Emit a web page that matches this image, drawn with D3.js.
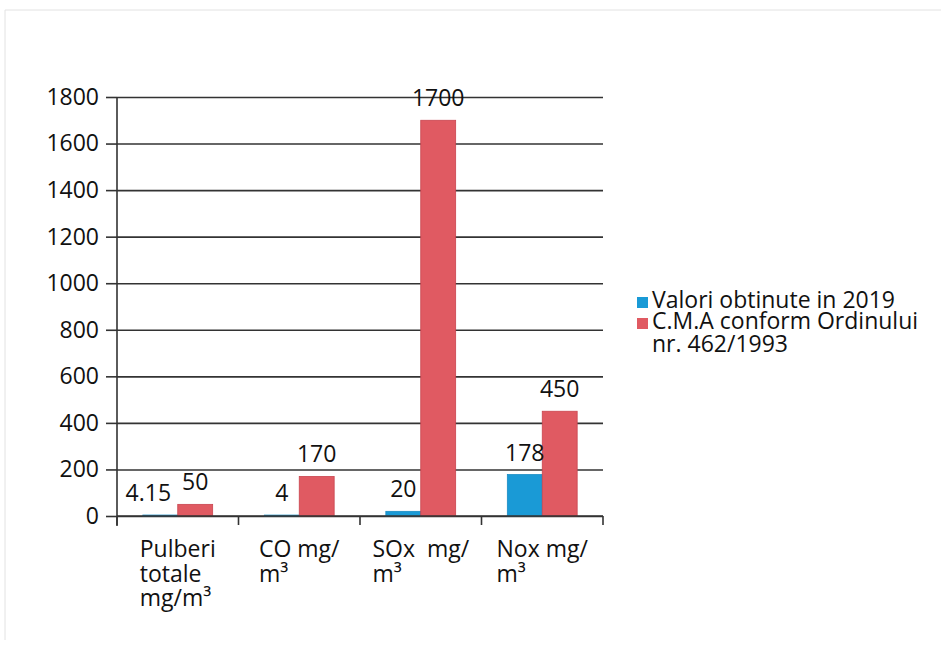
<!DOCTYPE html>
<html>
<head>
<meta charset="utf-8">
<script src="https://cdn.jsdelivr.net/npm/d3@7"></script>
<style>
  body { margin: 0; background: #fff; }
  text { font-family: "Open Sans", "Noto Sans", sans-serif; fill: #111; }
</style>
</head>
<body>
<svg id="chart"></svg>
<script>
// data
const categories = [
  ["Pulberi", "totale", "mg/m\u00b3"],
  ["CO mg/", "m\u00b3"],
  ["SOx\u00a0 mg/", "m\u00b3"],
  ["Nox mg/", "m\u00b3"]
];
const seriesNames = ["Valori obtinute in 2019", "C.M.A conform Ordinului nr. 462/1993"];
const valori2019 = [4.15, 4, 20, 178];
const cmaValues = [50, 170, 1700, 450];
const labels2019 = ["4.15", "4", "20", "178"];
const labelsCma = ["50", "170", "1700", "450"];
const yTicks = [0, 200, 400, 600, 800, 1000, 1200, 1400, 1600, 1800];

const width = 947;
const height = 646;
const marginTop = 97;
const marginLeft = 117;
const plotRight = 603;
const plotBottom = 516;
const fontSize = 23;

const colors = ["#1a9ad6", "#e05a62"];
const strokes = ["#1a8cc4", "#c9454f"];

const svg = d3.select("#chart")
    .attr("width", width)
    .attr("height", height)
    .attr("viewBox", [0, 0, width, height]);

// faint scan frame
svg.append("path")
    .attr("d", "M5,640 V10 H941")
    .attr("fill", "none")
    .attr("stroke", "#e2e2e2")
    .attr("stroke-width", 1);

const x0 = d3.scaleBand()
    .domain(d3.range(categories.length))
    .range([marginLeft, plotRight])
    .paddingInner(0)
    .paddingOuter(0);

const x1 = d3.scaleBand()
    .domain([0, 1])
    .range([0, x0.bandwidth()])
    .paddingInner(0)
    .paddingOuter(0.74);

const y = d3.scaleLinear()
    .domain([0, 1800])
    .range([plotBottom, marginTop]);

// gridlines + y labels
svg.append("g")
    .attr("transform", `translate(${marginLeft},0)`)
    .call(d3.axisLeft(y).tickValues(yTicks).tickFormat(d3.format("d")).tickSize(11).tickPadding(7))
    .call(g => g.select(".domain").remove())
    .call(g => g.selectAll(".tick line").attr("stroke", "#333").attr("stroke-width", 1.6))
    .call(g => g.selectAll(".tick line").clone()
        .attr("x1", 0)
        .attr("x2", plotRight - marginLeft))
    .call(g => g.selectAll(".tick text")
        .attr("font-size", fontSize)
        .attr("fill", "#111"));

// bars
const data = categories.map((c, i) => ({i, vals: [valori2019[i], cmaValues[i]], labs: [labels2019[i], labelsCma[i]]}));

const groups = svg.append("g")
  .selectAll("g")
  .data(data)
  .join("g")
    .attr("transform", d => `translate(${x0(d.i)},0)`);

groups.selectAll("rect")
  .data(d => d.vals.map((v, s) => ({v, s})))
  .join("rect")
    .attr("x", d => x1(d.s))
    .attr("y", d => y(d.v))
    .attr("width", x1.bandwidth())
    .attr("height", d => y(0) - y(d.v))
    .attr("fill", d => colors[d.s])
    .attr("stroke", d => strokes[d.s])
    .attr("stroke-width", 0.8);

// value labels (the first one is nudged left in the original to clear "50")
groups.selectAll("text.val")
  .data(d => d.labs.map((l, s) => ({l, s, v: d.vals[s], i: d.i})))
  .join("text")
    .attr("class", "val")
    .attr("x", d => x1(d.s) + x1.bandwidth() / 2 + (d.i === 0 && d.s === 0 ? -12 : 0))
    .attr("y", d => y(d.v) - 14)
    .attr("text-anchor", "middle")
    .attr("font-size", fontSize)
    .text(d => d.l);

// axes lines
svg.append("line")
    .attr("x1", marginLeft).attr("x2", marginLeft)
    .attr("y1", marginTop).attr("y2", plotBottom + 10)
    .attr("stroke", "#333").attr("stroke-width", 1.6);

svg.append("line")
    .attr("x1", marginLeft).attr("x2", plotRight)
    .attr("y1", plotBottom).attr("y2", plotBottom)
    .attr("stroke", "#333").attr("stroke-width", 1.6);

svg.append("g")
  .selectAll("line")
  .data(d3.range(categories.length + 1))
  .join("line")
    .attr("x1", d => d < categories.length ? x0(d) : plotRight)
    .attr("x2", d => d < categories.length ? x0(d) : plotRight)
    .attr("y1", plotBottom)
    .attr("y2", plotBottom + 9)
    .attr("stroke", "#333")
    .attr("stroke-width", 1.6);

// category labels, wrapped and left aligned as a centred block
const cat = svg.append("g")
  .selectAll("text")
  .data(categories)
  .join("text")
    .attr("font-size", fontSize);

cat.selectAll("tspan")
  .data(d => d)
  .join("tspan")
    .attr("dy", (d, i) => i === 0 ? 0 : 24.5)
    .text(d => d);

cat.each(function(d, i) {
  const t = d3.select(this);
  let w = 0;
  t.selectAll("tspan").each(function() { w = Math.max(w, this.getComputedTextLength()); });
  const left = x0(i) + x0.bandwidth() / 2 - w / 2;
  t.attr("x", left).attr("y", 557);
  t.selectAll("tspan").attr("x", left);
});

// legend
const legendRows = [[seriesNames[0]], ["C.M.A conform Ordinului", "nr. 462/1993"]];
const lg = svg.append("g").attr("transform", "translate(637,0)");
lg.selectAll("rect")
  .data(legendRows)
  .join("rect")
    .attr("x", 0)
    .attr("y", (d, i) => 297 + i * 21)
    .attr("width", 11)
    .attr("height", 11)
    .attr("fill", (d, i) => colors[i]);

const lt = lg.selectAll("text")
  .data(legendRows)
  .join("text")
    .attr("x", 15)
    .attr("y", (d, i) => 308 + i * 21)
    .attr("font-size", fontSize);

lt.selectAll("tspan")
  .data(d => d)
  .join("tspan")
    .attr("x", 15)
    .attr("dy", (d, i) => i === 0 ? 0 : 23)
    .text(d => d);
</script>
</body>
</html>
